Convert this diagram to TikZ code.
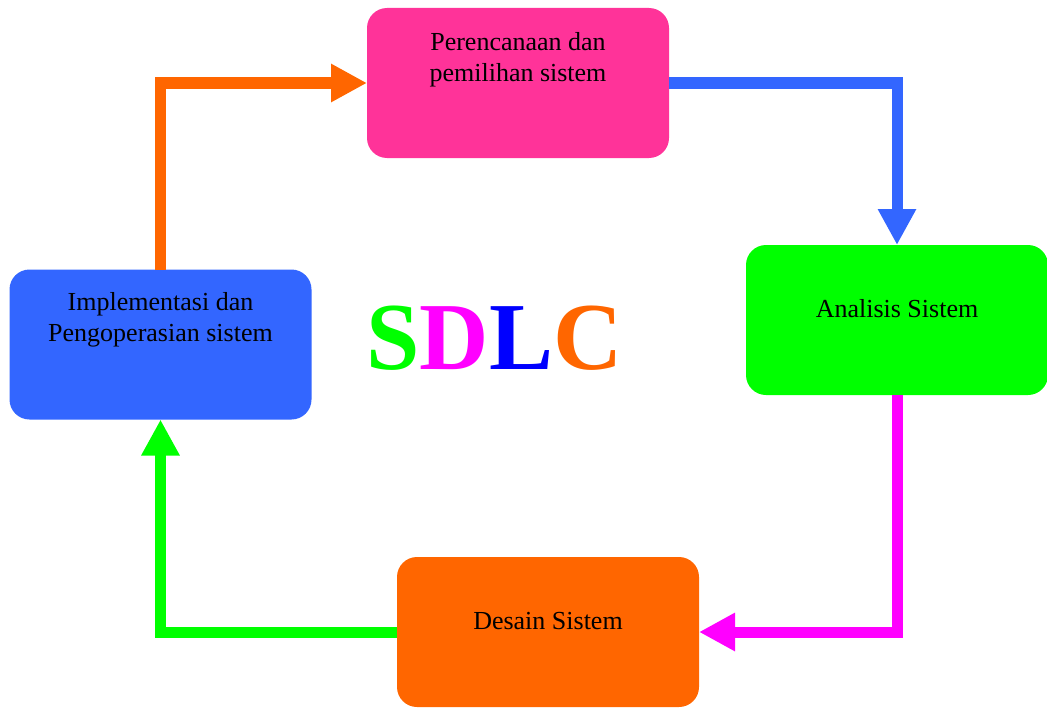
\documentclass[tikz,border=0pt]{standalone}
\usepackage{fontspec}
\setmainfont{Liberation Serif}
\usetikzlibrary{positioning,arrows.meta}
\definecolor{sdlcpink}{HTML}{FF3399}
\definecolor{sdlcblue}{HTML}{3366FF}
\definecolor{sdlcgreen}{HTML}{00FF00}
\definecolor{sdlcorange}{HTML}{FF6600}
\definecolor{sdlcmagenta}{HTML}{FF00FF}
\definecolor{sdlcdeep}{HTML}{0000FF}

\begin{document}
\begin{tikzpicture}
  [x=1pt,y=-1pt,
  phase/.style={rectangle,rounded corners=20pt,minimum width=302pt,
                  minimum height=150pt,outer sep=0,inner sep=0},
  phasetext/.style={align=center,inner sep=0,
                  font=\fontsize{26}{31}\selectfont},
  flow/.style={line width=11pt,-{Triangle[length=36pt,width=36pt]}}
                  ]
  \useasboundingbox (0,0) rectangle (1047,709);

  \node[phase,fill=sdlcpink] (plan) at (518,83) {};
  \node[phase,fill=sdlcgreen] (analisis) at (897,320) {};
  \node[phase,fill=sdlcorange] (desain) at (548,632) {};
  \node[phase,fill=sdlcblue] (impl) at (160.5,344.5) {};

  \node[phasetext,anchor=north,below=24pt of plan.north] (plantext)
    {Perencanaan dan\\pemilihan sistem};
  \node[phasetext,anchor=north,below=54pt of analisis.north] (analisistext)
    {Analisis Sistem};
  \node[phasetext,anchor=north,below=55pt of desain.north] (desaintext)
    {Desain Sistem};
  \node[phasetext,anchor=north,below=23pt of impl.north] (impltext)
    {Implementasi dan\\Pengoperasian sistem};

  \node[anchor=base,inner sep=0,font=\fontsize{96}{96}\bfseries] (sdlc)
    at (494.5,369) {\textcolor{sdlcgreen}{S}\textcolor{sdlcmagenta}{D}\textcolor{sdlcdeep}{L}\textcolor{sdlcorange}{C}};

  \draw[flow,sdlcorange] (impl.north) |- (plan.west);
  \draw[flow,sdlcblue] (plan.east) -| (analisis.north);
  \draw[flow,sdlcmagenta] (analisis.south) |- (desain.east);
  \draw[flow,sdlcgreen] (desain.west) -| (impl.south);
\end{tikzpicture}
\end{document}
